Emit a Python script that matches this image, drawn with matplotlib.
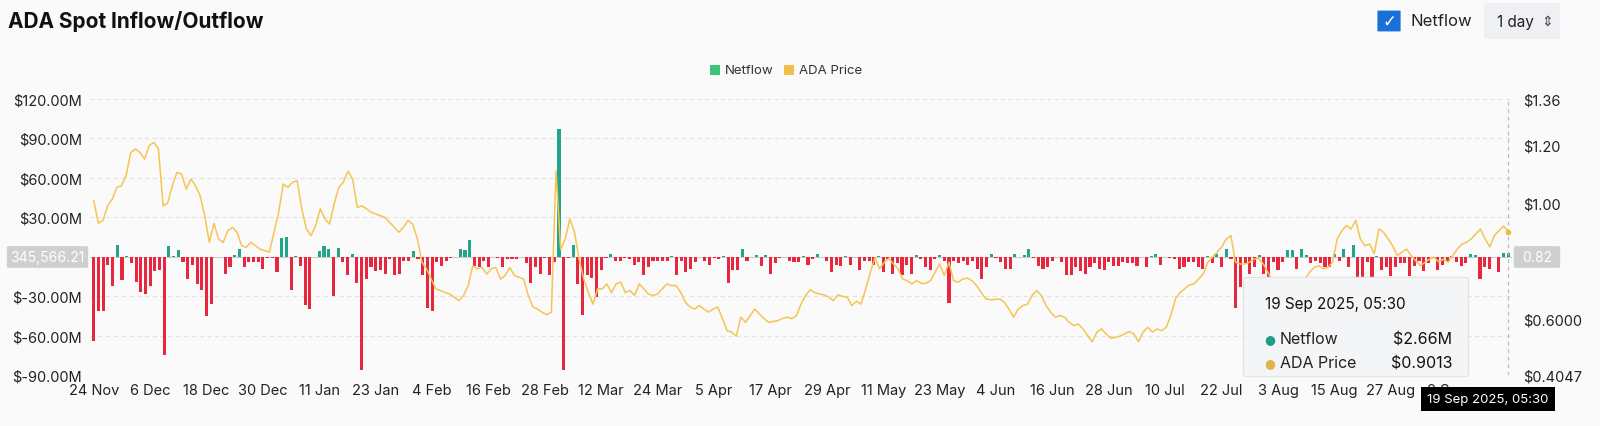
import numpy as np
import pandas as pd
import matplotlib.pyplot as plt
from matplotlib.patches import FancyBboxPatch, Rectangle

plt.rcParams["font.family"] = "Inter"

# Daily netflow, $M, from 24 Nov 2024
netflow = [
    -64, -41, -41, -6, -22, 9, -18, 0.5, -5, -19, -27, -28, -22, -11, -10, -75, 8, 0.3, 5, -4,
    -17, -6, -21, -25, -45, -36, -0.3, -0.3, -13, -8, 1.5, 6, -8, -4, -4, -4, -9,
    -1, -1, -12, 14, 15, -25, 0.3, -7, -37, -40, -0.3, 4, 8, 6, -30, 7, -4, -14, 2, -20,
    -86, -17, -8, -11, -10, -13, -2, -14, -13, -3, -3, 4, -2, -14, -39, -41,
    -4, -7, -3, -1, -0.3, 6, 5, 13, -7, -8, -3, -8, -0.3, -1, -8, -2, -2, -2, -0.3, -5,
    -20, -8, -13, -1, -14, -4, 97, -86, -1, 9, -21, -44, -14, -16, -31, -10,
    -1, 2, -3, -3, -1, -2, -6, -4, -14, -8, -3, -3, -3, -3, 0.3, -14, -3, -12, -9, -4,
    -0.3, -3, -6, -1, -2, 0.3, -20, -10, -10, 6, -3, -0.3, 1, -7, 1, -13, -5,
    -1, -0.5, -3, -4, -4, 0.5, -6, -2, 2, -0.5, -3, -12, -6, -7, 0.5, -6, -0.3, -10,
    -3, -3, -6, 0.5, -12, -2, -13, -5, -14, -6, -13, 1, -2, -8, -10, -2, 1, -3,
    -35, -3, -5, -3, -6, -3, -9, -17, -8, 2, -1, -4, -9, -9, 2, -0.3, 1, 6, -1, -7,
    -9, -8, -3, -0.3, -4, -14, -14, -8, -11, -13, -8, -5, -9, -10, -4, -7,
    -7, -4, -5, -5, -7, -0.3, -8, 0.5, 2, -6, -0.3, -1, -2, -9, -8, -4, -4, -8, -9, 0.5,
    -5, 2, -8, 6, -2, -39, -23, -5, -13, -8, 1, -13, -16, -4, -10, -4,
    5, 5, -9, 6, 1, -5, -3, -5, -8, -8, 2, -3, 6, -8, 9, -17, -17, -4, -17, 0.5,
    -10, -8, -15, -8, -5, -5, -15, -7, -3, -11, -5, -1, -10, -6, -3, 0.5, -4, -7, -5, 2, 1,
    -17, -8, -9, -0.3, -12, 3, 2.66,
]

# ADA price, $
ada_price = [
    1.008, 0.93, 0.94, 0.99, 1.014, 1.054, 1.06, 1.095, 1.175, 1.187, 1.175, 1.152, 1.199, 1.21,
    1.187, 0.99, 1.0, 1.06, 1.106, 1.1, 1.048, 1.083, 1.06, 1.026, 0.956, 0.864, 0.93, 0.875,
    0.864, 0.904, 0.916, 0.899, 0.852, 0.847, 0.864, 0.852, 0.84,
    0.835, 0.83, 0.899, 0.968, 1.066, 1.054, 1.072, 1.077, 0.98, 0.91, 0.887, 0.922, 0.98, 0.945,
    0.927, 0.997, 1.054, 1.072, 1.11, 1.083, 0.985, 0.99, 0.98, 0.968, 0.962, 0.956, 0.95, 0.933,
    0.916, 0.899, 0.916, 0.94, 0.927, 0.876, 0.795, 0.772,
    0.737, 0.703, 0.697, 0.69, 0.685, 0.674, 0.662, 0.68, 0.714, 0.783, 0.772, 0.777, 0.754,
    0.772, 0.777, 0.737, 0.749, 0.777, 0.749, 0.743, 0.737, 0.68, 0.64, 0.633, 0.622, 0.613,
    0.622, 1.112, 0.84, 0.876, 0.945, 0.899, 0.806, 0.737, 0.69, 0.65, 0.703,
    0.703, 0.72, 0.69, 0.72, 0.726, 0.69, 0.697, 0.68, 0.72, 0.703, 0.685, 0.68, 0.685, 0.703,
    0.72, 0.714, 0.714, 0.69, 0.656, 0.64, 0.633, 0.645, 0.633, 0.622, 0.633, 0.64, 0.6, 0.558,
    0.553, 0.539, 0.605, 0.587, 0.61, 0.633, 0.616, 0.6, 0.587, 0.59,
    0.593, 0.6, 0.605, 0.6, 0.61, 0.65, 0.68, 0.7, 0.69, 0.685, 0.682, 0.674, 0.662, 0.682,
    0.677, 0.674, 0.645, 0.66, 0.65, 0.703, 0.76, 0.812, 0.772, 0.795, 0.808, 0.789, 0.772,
    0.737, 0.731, 0.72, 0.731, 0.722, 0.722, 0.731, 0.76, 0.789,
    0.749, 0.795, 0.731, 0.726, 0.737, 0.74, 0.731, 0.714, 0.69, 0.668, 0.665, 0.666, 0.668,
    0.656, 0.633, 0.605, 0.633, 0.645, 0.65, 0.68, 0.697, 0.68, 0.645, 0.622, 0.605, 0.61, 0.605,
    0.587, 0.576, 0.581, 0.564, 0.541, 0.52, 0.553, 0.564, 0.547, 0.532, 0.535,
    0.539, 0.547, 0.555, 0.547, 0.52, 0.553, 0.57, 0.553, 0.564, 0.558, 0.57, 0.61, 0.668, 0.69,
    0.703, 0.716, 0.72, 0.737, 0.754, 0.795, 0.812, 0.83, 0.847, 0.876, 0.887, 0.795, 0.789,
    0.789, 0.795, 0.806, 0.808, 0.789, 0.76, 0.731, 0.697, 0.668,
    0.655, 0.66, 0.70, 0.72, 0.737, 0.76, 0.777, 0.783, 0.772, 0.777, 0.795, 0.876, 0.904, 0.922,
    0.91, 0.94, 0.876, 0.852, 0.858, 0.824, 0.91, 0.899, 0.876, 0.852, 0.818, 0.83, 0.841, 0.818,
    0.8, 0.783, 0.795, 0.806, 0.812, 0.795, 0.806, 0.795, 0.818, 0.841, 0.858, 0.864, 0.876,
    0.893, 0.91, 0.876, 0.848, 0.887, 0.904, 0.92, 0.9013,
]

left_ticks = [120, 90, 60, 30, 0, -30, -60, -90]
right_ticks = [1.36, 1.20, 1.00, 0.6000, 0.4047]
right_labels = ["$1.36", "$1.20", "$1.00", "$0.6000", "$0.4047"]

dates = pd.date_range("2024-11-24", periods=len(netflow), freq="D")
n = len(netflow)
x = np.arange(n)
xp = np.linspace(0, n - 1, len(ada_price))
vals = np.array(netflow)

BG = "#fafafa"
GREEN = "#22a58a"
RED = "#e8273f"
YELLOW = "#f6c453"

fig = plt.figure(figsize=(16, 4.27), dpi=100, facecolor=BG)
ax = fig.add_axes([90 / 1600, 1 - 376 / 427, 1422 / 1600, 276 / 427], facecolor=BG)

ax.bar(x, vals, width=0.66, color=np.where(vals >= 0, GREEN, RED), zorder=3)
ax.axhline(0, color="#cccccc", lw=0.8, zorder=2)
ax.set_ylim(-90, 120)
ax.set_xlim(-0.8, n - 0.2)
ax.set_yticks(left_ticks)
ax.set_yticklabels(["" if v == 0 else f"${v:.2f}M" for v in left_ticks], fontsize=10.5, color="#222")
for v in left_ticks:
    if v != 0:
        ax.axhline(v, color="#e3e3e3", lw=0.8, ls=(0, (4, 3)), zorder=1)
ax.tick_params(length=0, pad=6)
for s in ax.spines.values():
    s.set_visible(False)

xt = np.arange(0, n - 10, 12)
ax.set_xticks(xt)
ax.set_xticklabels([f"{d.day} {d.strftime('%b')}" for d in dates[xt]], fontsize=10.5, color="#222")

ax2 = ax.twinx()
ax2.plot(xp, ada_price, color=YELLOW, lw=1.1, zorder=4)
ax2.set_ylim(0.4047, 1.36)
ax2.set_yticks(right_ticks)
ax2.set_yticklabels(right_labels, fontsize=10.5, color="#222")
ax2.tick_params(length=0, pad=8)
for s in ax2.spines.values():
    s.set_visible(False)
ax2.axvline(n - 1, color="#bbbbbb", lw=0.9, ls=(0, (3, 3)))
ax2.plot([xp[-1]], [ada_price[-1]], "o", ms=3, color="#e9b949", zorder=5)

# title and controls
fig.text(8 / 1600, 1 - 22 / 427, "ADA Spot Inflow/Outflow", fontsize=15, weight="bold", va="center", color="#111")
fig.patches.append(FancyBboxPatch((1379 / 1600, 1 - 32 / 427), 20 / 1600, 20 / 427, boxstyle="round,pad=0.001",
                                  transform=fig.transFigure, fc="#1b6fd8", ec="none"))
fig.text(1389 / 1600, 1 - 22 / 427, "✓", fontsize=12, color="white", ha="center", va="center",
         weight="bold", family="DejaVu Sans")
fig.text(1410 / 1600, 1 - 22 / 427, "Netflow", fontsize=12, color="#222", va="center")
fig.patches.append(FancyBboxPatch((1487 / 1600, 1 - 39 / 427), 70 / 1600, 34 / 427, boxstyle="round,pad=0.002",
                                  transform=fig.transFigure, fc="#eef0f3", ec="none"))
fig.text(1497 / 1600, 1 - 22 / 427, "1 day", fontsize=11, color="#222", va="center")
fig.text(1541 / 1600, 1 - 22 / 427, "⇕", fontsize=10, color="#444", va="center", family="DejaVu Sans")

# legend
fig.patches.append(Rectangle((710 / 1600, 1 - 76 / 427), 10 / 1600, 10 / 427, transform=fig.transFigure, fc="#3cc47c"))
fig.text(725 / 1600, 1 - 71 / 427, "Netflow", fontsize=9.5, color="#333", va="center")
fig.patches.append(Rectangle((784 / 1600, 1 - 76 / 427), 10 / 1600, 10 / 427, transform=fig.transFigure, fc="#f0c04a"))
fig.text(799 / 1600, 1 - 71 / 427, "ADA Price", fontsize=9.5, color="#333", va="center")

# axis pointer labels
fig.patches.append(FancyBboxPatch((10 / 1600, 1 - 268 / 427), 75 / 1600, 20 / 427, boxstyle="round,pad=0.002",
                                  transform=fig.transFigure, fc="#cfcfcf", ec="none"))
fig.text(47 / 1600, 1 - 258 / 427, "345,566.21", fontsize=10, color="white", ha="center", va="center")
fig.patches.append(FancyBboxPatch((1517 / 1600, 1 - 268 / 427), 40 / 1600, 20 / 427, boxstyle="round,pad=0.002",
                                  transform=fig.transFigure, fc="#cfcfcf", ec="none"))
fig.text(1537 / 1600, 1 - 258 / 427, "0.82", fontsize=10, color="white", ha="center", va="center")

# tooltip
fig.patches.append(FancyBboxPatch((1250 / 1600, 1 - 376 / 427), 212 / 1600, 96 / 427, boxstyle="round,pad=0.004",
                                  transform=fig.transFigure, fc="#f4f5f7", ec="#e2e2e2", lw=0.8, zorder=10))
fig.text(1265 / 1600, 1 - 305 / 427, "19 Sep 2025, 05:30", fontsize=11, color="#111", va="center", zorder=11)
fig.text(1270 / 1600, 1 - 340 / 427, "●", fontsize=9, color="#1e9d87", ha="center", va="center", zorder=11,
         family="DejaVu Sans")
fig.text(1280 / 1600, 1 - 340 / 427, "Netflow", fontsize=11.5, color="#222", va="center", zorder=11)
fig.text(1452 / 1600, 1 - 340 / 427, "$2.66M", fontsize=11.5, color="#111", ha="right", va="center", zorder=11)
fig.text(1270 / 1600, 1 - 364 / 427, "●", fontsize=9, color="#e2b54a", ha="center", va="center", zorder=11,
         family="DejaVu Sans")
fig.text(1280 / 1600, 1 - 364 / 427, "ADA Price", fontsize=11.5, color="#222", va="center", zorder=11)
fig.text(1452 / 1600, 1 - 364 / 427, "$0.9013", fontsize=11.5, color="#111", ha="right", va="center", zorder=11)
fig.patches.append(Rectangle((1421 / 1600, 1 - 412 / 427), 134 / 1600, 24 / 427, transform=fig.transFigure,
                             fc="black", zorder=10))
fig.text(1488 / 1600, 1 - 400 / 427, "19 Sep 2025, 05:30", fontsize=9.5, color="white", ha="center",
         va="center", zorder=11)

fig.savefig("out.png", dpi=100, facecolor=BG)
